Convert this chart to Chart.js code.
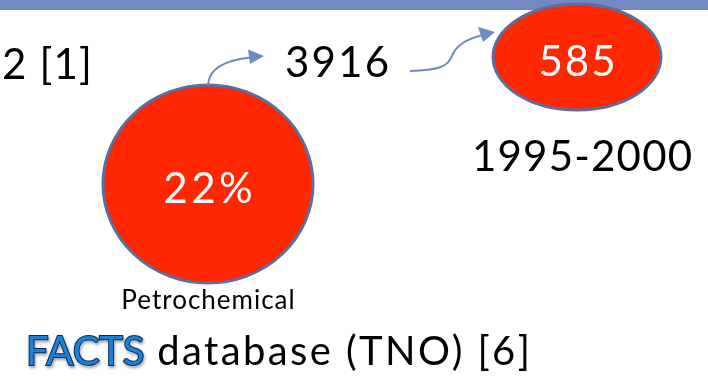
<!DOCTYPE html>
<html>
<head>
<meta charset="utf-8">
<script src="https://cdn.jsdelivr.net/npm/chart.js@4.4.1/dist/chart.umd.min.js"></script>
<style>
  html, body { margin: 0; padding: 0; background: #ffffff; }
  #c { display: block; }
</style>
</head>
<body>
<canvas id="c" width="708" height="381"></canvas>
<script>
// Values shown on the slide
const sectorLabels = ['Petrochemical', '1995-2000'];
const bubbleValues = ['22%', '585'];
const intermediateCount = ['3916'];
const referenceText = ['2 [1]'];
const footerParts = ['FACTS', ' database (TNO) [6]'];

// Layout (pixels on a 708 x 381 canvas, y downward)
const layout = {
  bubbles: [
    { x: 208, y: 184, rx: 105, ry: 99, valueY: 203, valueSpacing: 3.5,
      labelX: 208, labelY: 309, labelSize: 26, labelSpacing: 1, labelAlign: 'center' },
    { x: 577, y: 57, rx: 84, ry: 53, valueY: 76, valueSpacing: 2,
      labelX: 472, labelY: 171, labelSize: 42, labelSpacing: 1.2, labelAlign: 'left' }
  ],
  countPos: { x: 285, y: 77, spacing: 2.2 },
  refPos: { x: 2, y: 79, spacing: 1.2 },
  footerPos: { x: 26, y: 365, spacing: 2.4 },
  band: { h: 10 }
};

const FONT = 'Lato, "DejaVu Sans", sans-serif';
const colors = {
  band: '#7389c1',
  fill: '#ff2600',
  edge: '#5a6e9f',
  arrow: '#7088c4',
  text: '#000000',
  factsFill: '#1d7fd6',
  factsEdge: '#0c2c55'
};

// Ellipse markers rendered as canvas point styles
function ellipseCanvas(rx, ry) {
  const cv = document.createElement('canvas');
  cv.width = Math.ceil(rx * 2 + 4);
  cv.height = Math.ceil(ry * 2 + 4);
  const g = cv.getContext('2d');
  g.beginPath();
  g.ellipse(cv.width / 2, cv.height / 2, rx, ry, 0, 0, Math.PI * 2);
  g.fillStyle = colors.fill;
  g.fill();
  g.lineWidth = 3;
  g.strokeStyle = colors.edge;
  g.stroke();
  return cv;
}

const bubbleStyles = layout.bubbles.map(b => ellipseCanvas(b.rx, b.ry));

function spacedText(ctx, text, x, y, spacing, align) {
  ctx.letterSpacing = spacing + 'px';
  let w = ctx.measureText(text).width;
  let sx = x;
  if (align === 'center') sx = x - (w - spacing) / 2;
  ctx.textAlign = 'left';
  ctx.fillText(text, sx, y);
  ctx.letterSpacing = '0px';
  return w;
}

const decorations = {
  id: 'decorations',
  beforeDatasetsDraw(chart) {
    const { ctx } = chart;
    ctx.save();
    ctx.fillStyle = colors.band;
    ctx.fillRect(0, 0, chart.width, layout.band.h);
    ctx.restore();
  },
  afterDatasetsDraw(chart) {
    const { ctx } = chart;
    const xs = chart.scales.x, ys = chart.scales.y;
    const px = v => xs.getPixelForValue(v);
    const py = v => ys.getPixelForValue(v);
    const meta = chart.getDatasetMeta(0);

    ctx.save();
    ctx.textBaseline = 'alphabetic';

    // values inside the bubbles and captions under them
    meta.data.forEach((el, i) => {
      const b = layout.bubbles[i];
      ctx.fillStyle = '#ffffff';
      ctx.font = '42px ' + FONT;
      spacedText(ctx, bubbleValues[i], el.x, py(b.valueY), b.valueSpacing, 'center');
      ctx.fillStyle = colors.text;
      ctx.font = b.labelSize + 'px ' + FONT;
      spacedText(ctx, sectorLabels[i], px(b.labelX), py(b.labelY), b.labelSpacing, b.labelAlign);
    });

    ctx.fillStyle = colors.text;
    ctx.font = '42px ' + FONT;
    spacedText(ctx, referenceText[0], px(layout.refPos.x), py(layout.refPos.y), layout.refPos.spacing, 'left');
    spacedText(ctx, intermediateCount[0], px(layout.countPos.x), py(layout.countPos.y), layout.countPos.spacing, 'left');

    // arrows
    ctx.strokeStyle = colors.arrow;
    ctx.fillStyle = colors.arrow;
    ctx.lineWidth = 2;
    ctx.beginPath();
    ctx.moveTo(px(208), py(85));
    ctx.bezierCurveTo(px(209), py(68), px(225), py(60), px(251), py(57.5));
    ctx.stroke();
    ctx.beginPath();
    ctx.moveTo(px(264), py(56));
    ctx.lineTo(px(248), py(49.5));
    ctx.lineTo(px(250), py(64));
    ctx.closePath();
    ctx.fill();

    ctx.beginPath();
    ctx.moveTo(px(410), py(71));
    ctx.bezierCurveTo(px(438), py(70), px(448), py(67), px(452), py(56));
    ctx.bezierCurveTo(px(456), py(45), px(466), py(39), px(483), py(35));
    ctx.stroke();
    ctx.beginPath();
    ctx.moveTo(px(495), py(32));
    ctx.lineTo(px(478), py(27));
    ctx.lineTo(px(483), py(42));
    ctx.closePath();
    ctx.fill();

    // source line
    ctx.font = '40px ' + FONT;
    const fx = px(layout.footerPos.x), fy = py(layout.footerPos.y);
    ctx.save();
    ctx.shadowColor = 'rgba(0,0,0,0.45)';
    ctx.shadowBlur = 3;
    ctx.shadowOffsetX = 1;
    ctx.shadowOffsetY = 2;
    ctx.lineWidth = 2;
    ctx.strokeStyle = colors.factsEdge;
    ctx.strokeText(footerParts[0], fx, fy);
    ctx.restore();
    ctx.fillStyle = colors.factsFill;
    ctx.fillText(footerParts[0], fx, fy);
    const w = ctx.measureText(footerParts[0]).width;
    ctx.fillStyle = colors.text;
    spacedText(ctx, footerParts[1], fx + w, fy, layout.footerPos.spacing, 'left');
    ctx.restore();
  }
};

new Chart(document.getElementById('c'), {
  type: 'bubble',
  data: {
    datasets: [{
      label: 'Accidents',
      data: layout.bubbles.map(b => ({ x: b.x, y: b.y, r: Math.max(b.rx, b.ry) })),
      pointStyle: bubbleStyles,
      backgroundColor: colors.fill,
      borderColor: colors.edge,
      clip: false
    }]
  },
  options: {
    responsive: false,
    animation: false,
    events: [],
    layout: { padding: 0, autoPadding: false },
    plugins: { legend: { display: false }, tooltip: { enabled: false } },
    scales: {
      x: { type: 'linear', min: 0, max: 708, display: false },
      y: { type: 'linear', min: 0, max: 381, reverse: true, display: false }
    }
  },
  plugins: [decorations]
});
</script>
</body>
</html>
